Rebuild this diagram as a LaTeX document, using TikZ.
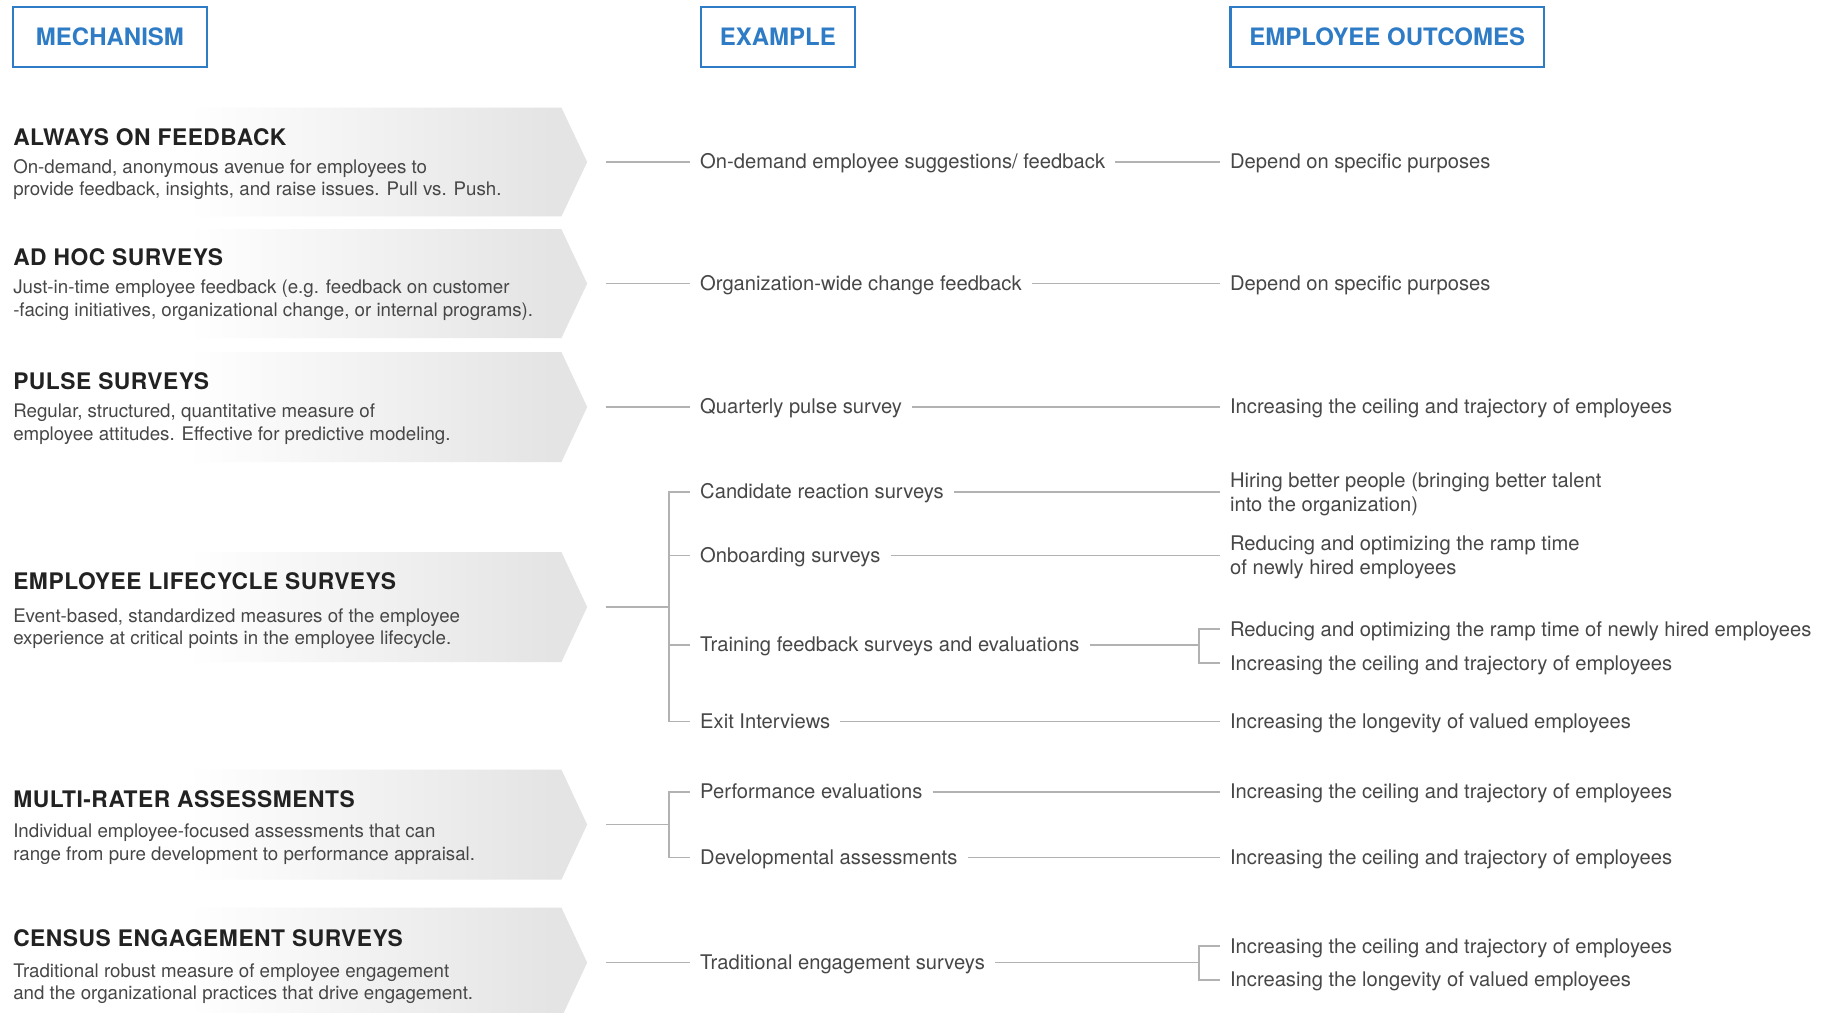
\documentclass[tikz,border=0pt]{standalone}
\usepackage{fontspec}
\setmainfont{TeX Gyre Heros}
\usetikzlibrary{calc}

\definecolor{hdrblue}{HTML}{2E7BC6}
\definecolor{ink}{HTML}{222222}
\definecolor{bodyink}{HTML}{474747}
\definecolor{rule}{HTML}{B2B2B2}
\definecolor{chevgrey}{HTML}{E4E4E4}

% fade of the mechanism chevrons: white on the left, light grey at the tip
\pgfdeclarehorizontalshading{chevfade}{100bp}{color(0bp)=(white); color(25bp)=(white); color(41bp)=(white); color(72bp)=(chevgrey); color(100bp)=(chevgrey)}

% chevron between top #2 and bottom #3; #1 names the start of its connector
\newcommand\drawchev[3]{%
  \shade[shading=chevfade] (0,#2) -- (480,#2) -- (502,{(#2+#3)/2}) -- (480,#3) -- (0,#3) -- cycle;
  \coordinate (#1) at (518,{(#2+#3)/2});}

\tikzset{
  hdr/.style={draw=hdrblue, line width=1.1pt, text=hdrblue, inner sep=0pt,
    minimum height=30.6pt, font=\fontsize{12.3}{15}\selectfont\bfseries},
  mechhead/.style={anchor=west, inner sep=0pt, text=ink,
    font=\fontsize{11.7}{14}\selectfont\bfseries\addfontfeatures{LetterSpace=2.3}},
  mechdesc/.style={anchor=west, inner sep=0pt, text=bodyink, align=left,
    font=\fontsize{9.6}{11.7}\selectfont},
  item/.style={anchor=west, inner xsep=5pt, inner ysep=0pt, text=bodyink,
    text height=9.2pt, text depth=2.2pt, font=\fontsize{10.35}{12.6}\selectfont},
  item2/.style={anchor=west, inner xsep=5pt, inner ysep=0pt, text=bodyink, align=left,
    font=\fontsize{10.35}{12.6}\selectfont},
  link/.style={draw=rule, line width=0.8pt},
}

\begin{document}
\begin{tikzpicture}[x=0.6pt, y=-0.6pt]
\useasboundingbox (0,0) rectangle (1568,866);
\clip (0,0) rectangle (1568,866);
\fill[white] (0,0) rectangle (1568,866);

% column headers
\node[hdr, minimum width=99.6pt] (hmech) at (94,31.5) {MECHANISM};
\node[hdr, minimum width=79.2pt] (hex) at (665,31.5) {EXAMPLE};
\node[hdr, minimum width=160.8pt] (hout) at (1186,31.5) {EMPLOYEE OUTCOMES};

% mechanism chevrons
\drawchev{s1}{92}{185}
\drawchev{s2}{196}{289}
\drawchev{s3}{301}{395}
\drawchev{s4}{472}{566}
\drawchev{s5}{658}{752}
\drawchev{s6}{776}{870}

% mechanism titles and descriptions
\node[mechhead] (m1) at (11,117) {ALWAYS ON FEEDBACK};
\node[mechdesc] (d1) at (11,153.5) {On-demand, anonymous avenue for employees to\\provide feedback, insights, and raise issues. Pull vs. Push.};
\node[mechhead] (m2) at (11,220) {AD HOC SURVEYS};
\node[mechdesc] (d2) at (11,256.5) {Just-in-time employee feedback (e.g. feedback on customer\\-facing initiatives, organizational change, or internal programs).};
\node[mechhead] (m3) at (11,326) {PULSE SURVEYS};
\node[mechdesc] (d3) at (11,362.5) {Regular, structured, quantitative measure of\\employee attitudes. Effective for predictive modeling.};
\node[mechhead] (m4) at (11,497) {EMPLOYEE LIFECYCLE SURVEYS};
\node[mechdesc] (d4) at (11,537.5) {Event-based, standardized measures of the employee\\experience at critical points in the employee lifecycle.};
\node[mechhead] (m5) at (11,683) {MULTI-RATER ASSESSMENTS};
\node[mechdesc] (d5) at (11,721.5) {Individual employee-focused assessments that can\\range from pure development to performance appraisal.};
\node[mechhead] (m6) at (11,802) {CENSUS ENGAGEMENT SURVEYS};
\node[mechdesc] (d6) at (11,841) {Traditional robust measure of employee engagement\\and the organizational practices that drive engagement.};

% examples
\node[item] (e1) at (590,138.5) {On-demand employee suggestions/ feedback};
\node[item] (e2) at (590,242.5) {Organization-wide change feedback};
\node[item] (e3) at (590,348) {Quarterly pulse survey};
\node[item] (e41) at (590,420.5) {Candidate reaction surveys};
\node[item] (e42) at (590,475) {Onboarding surveys};
\node[item] (e43) at (590,551.5) {Training feedback surveys and evaluations};
\node[item] (e44) at (590,617) {Exit Interviews};
\node[item] (e51) at (590,677) {Performance evaluations};
\node[item] (e52) at (590,733) {Developmental assessments};
\node[item] (e6) at (590,823) {Traditional engagement surveys};

% outcomes
\node[item] (o1) at (1043,138.5) {Depend on specific purposes};
\node[item] (o2) at (1043,242.5) {Depend on specific purposes};
\node[item] (o3) at (1043,348) {Increasing the ceiling and trajectory of employees};
\node[item2] (o41) at (1043,422.5) {Hiring better people (bringing better talent\\into the organization)};
\node[item2] (o42) at (1043,476.5) {Reducing and optimizing the ramp time\\of newly hired employees};
\node[item] (o43a) at (1043,538) {Reducing and optimizing the ramp time of newly hired employees};
\node[item] (o43b) at (1043,567) {Increasing the ceiling and trajectory of employees};
\node[item] (o44) at (1043,617) {Increasing the longevity of valued employees};
\node[item] (o51) at (1043,677) {Increasing the ceiling and trajectory of employees};
\node[item] (o52) at (1043,733) {Increasing the ceiling and trajectory of employees};
\node[item] (o61) at (1043,809) {Increasing the ceiling and trajectory of employees};
\node[item] (o62) at (1043,838) {Increasing the longevity of valued employees};

% branch points
\coordinate (b4) at (572,519);
\coordinate (b5) at (572,705);
\coordinate (k43) at (1025,551.5);
\coordinate (k6) at (1025,823);

% connectors: mechanism -> example
\draw[link] (s1) -- (e1.west);
\draw[link] (s2) -- (e2.west);
\draw[link] (s3) -- (e3.west);
\draw[link] (s4) -- (b4);
\draw[link] (e41.west) -| (b4) |- (e44.west);
\draw[link] (e42.west) -- (e42.west -| b4);
\draw[link] (e43.west) -- (e43.west -| b4);
\draw[link] (s5) -- (b5);
\draw[link] (e51.west) -| (b5) |- (e52.west);
\draw[link] (s6) -- (e6.west);

% connectors: example -> outcome
\draw[link] (e1.east) -- (o1.west);
\draw[link] (e2.east) -- (o2.west);
\draw[link] (e3.east) -- (o3.west);
\draw[link] (e41.east) -- (e41.east -| o41.west);
\draw[link] (e42.east) -- (e42.east -| o42.west);
\draw[link] (e43.east) -- (k43);
\draw[link] (o43a.west) -| (k43) |- (o43b.west);
\draw[link] (e44.east) -- (o44.west);
\draw[link] (e51.east) -- (o51.west);
\draw[link] (e52.east) -- (o52.west);
\draw[link] (e6.east) -- (k6);
\draw[link] (o61.west) -| (k6) |- (o62.west);
\end{tikzpicture}
\end{document}
